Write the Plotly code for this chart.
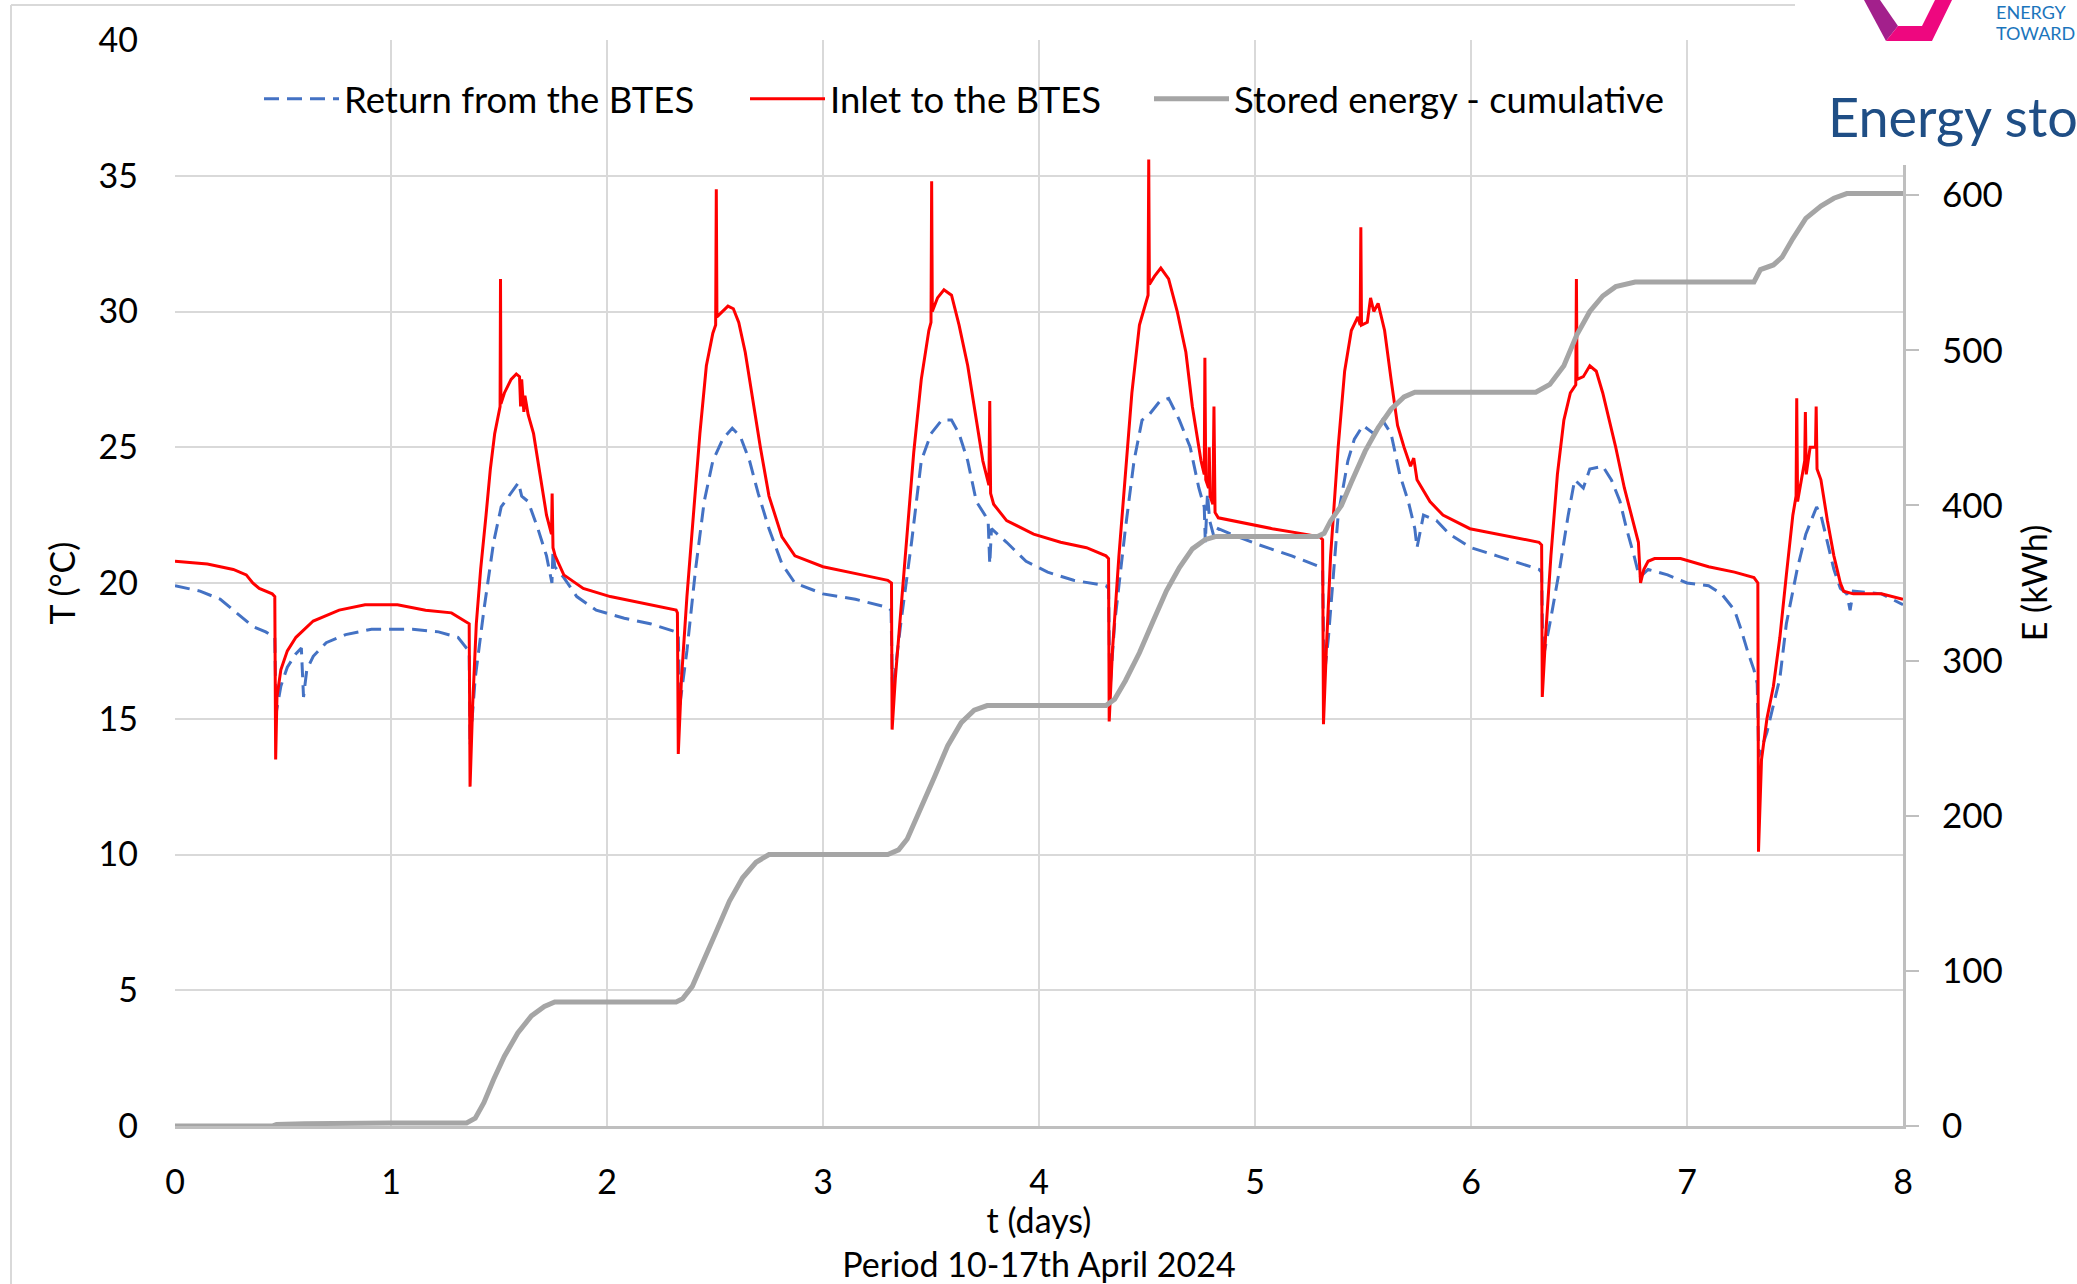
import plotly.graph_objects as go

# ---------------- data ----------------
t_inlet = [0, 0.15, 0.27, 0.33, 0.36, 0.39, 0.45, 0.462, 0.466, 0.472, 0.49, 0.52, 0.56, 0.64, 0.76, 0.88,
           1.03, 1.16, 1.28, 1.345, 1.362, 1.366, 1.378, 1.395, 1.415, 1.44, 1.46, 1.48, 1.5, 1.505, 1.507,
           1.509, 1.525, 1.556, 1.58, 1.595, 1.6, 1.605, 1.615, 1.62, 1.635, 1.66, 1.69, 1.72, 1.743, 1.746,
           1.75, 1.76, 1.8, 1.89, 2.015, 2.14, 2.32, 2.326, 2.33, 2.345, 2.37, 2.4, 2.43, 2.46, 2.49, 2.503,
           2.506, 2.509, 2.536, 2.56, 2.585, 2.61, 2.64, 2.67, 2.71, 2.75, 2.81, 2.87, 3.0, 3.18, 3.3, 3.317,
           3.32, 3.335, 3.36, 3.39, 3.42, 3.455, 3.49, 3.5, 3.503, 3.506, 3.53, 3.56, 3.595, 3.63, 3.67, 3.71,
           3.74, 3.768, 3.772, 3.776, 3.79, 3.85, 3.975, 4.1, 4.22, 4.31, 4.322, 4.325, 4.34, 4.37, 4.4, 4.43,
           4.465, 4.5, 4.505, 4.508, 4.511, 4.535, 4.564, 4.6, 4.64, 4.68, 4.71, 4.75, 4.765, 4.768, 4.772,
           4.785, 4.788, 4.792, 4.805, 4.81, 4.815, 4.83, 4.96, 5.08, 5.23, 5.3, 5.313, 5.317, 5.33, 5.35,
           5.385, 5.415, 5.446, 5.476, 5.487, 5.49, 5.493, 5.52, 5.535, 5.55, 5.57, 5.6, 5.63, 5.66, 5.69,
           5.72, 5.735, 5.75, 5.81, 5.87, 5.995, 6.18, 6.315, 6.327, 6.33, 6.345, 6.37, 6.4, 6.43, 6.46, 6.485,
           6.488, 6.491, 6.52, 6.55, 6.58, 6.61, 6.64, 6.67, 6.71, 6.76, 6.775, 6.785, 6.8, 6.82, 6.85, 6.97,
           7.1, 7.22, 7.31, 7.328, 7.331, 7.345, 7.37, 7.4, 7.43, 7.46, 7.49, 7.505, 7.508, 7.512, 7.53, 7.545,
           7.548, 7.552, 7.57, 7.595, 7.598, 7.602, 7.62, 7.65, 7.68, 7.71, 7.725, 7.77, 7.9, 8.0]
T_inlet = [20.8, 20.7, 20.5, 20.3, 20.0, 19.8, 19.6, 19.5, 13.5, 15.8, 16.8, 17.5, 18.0, 18.6, 19.0, 19.2,
           19.2, 19.0, 18.9, 18.6, 18.5, 12.5, 15.5, 18.5, 20.5, 22.5, 24.2, 25.5, 26.3, 26.5, 31.2,
           26.6, 27.0, 27.5, 27.7, 27.6, 26.5, 27.5, 26.3, 26.9, 26.2, 25.5, 24.0, 22.5, 21.8, 23.3,
           21.3, 21.0, 20.3, 19.8, 19.5, 19.3, 19.0, 18.9, 13.7, 16.5, 19.5, 22.5, 25.5, 28.0, 29.2, 29.5,
           34.5, 29.8, 30.0, 30.2, 30.1, 29.6, 28.5, 27.0, 25.0, 23.2, 21.7, 21.0, 20.6, 20.3, 20.1, 20.0,
           14.6, 16.5, 19.0, 22.0, 24.8, 27.5, 29.3, 29.6, 34.8, 30.0, 30.5, 30.8, 30.6, 29.5, 28.0, 26.0,
           24.5, 23.6, 26.7, 23.3, 22.9, 22.3, 21.8, 21.5, 21.3, 21.0, 20.9, 14.9, 17.5, 21.0, 24.0, 27.0,
           29.5, 30.5, 30.6, 35.6, 31.0, 31.3, 31.6, 31.2, 30.0, 28.5, 26.5, 24.5, 24.0, 28.3, 23.8,
           23.5, 25.0, 23.2, 22.9, 26.5, 22.6, 22.4, 22.2, 22.0, 21.8, 21.7, 21.6, 14.8, 17.5, 21.0,
           25.0, 27.8, 29.3, 29.8, 29.5, 33.1, 29.5, 29.6, 30.5, 30.0, 30.3, 29.3, 27.5, 25.8, 25.0,
           24.3, 24.6, 23.8, 23.0, 22.5, 22.0, 21.7, 21.5, 21.4, 15.8, 18.0, 21.0, 24.0, 26.0, 27.0, 27.3,
           31.2, 27.5, 27.6, 28.0, 27.8, 27.0, 26.0, 25.0, 23.5, 22.0, 21.5, 20.0, 20.5, 20.8, 20.9, 20.9,
           20.6, 20.4, 20.2, 20.0, 10.1, 13.5, 15.0, 16.2, 18.0, 20.3, 22.5, 23.2, 26.8, 23.0, 23.8, 24.5,
           26.3, 24.0, 25.0, 25.0, 26.5, 24.2, 23.8, 22.3, 21.0, 20.0, 19.7, 19.6, 19.6, 19.4]

t_return = [0, 0.116, 0.21, 0.3, 0.36, 0.42, 0.462, 0.468, 0.49, 0.52, 0.56, 0.585, 0.595, 0.61, 0.64, 0.7,
            0.79, 0.91, 1.1, 1.22, 1.31, 1.35, 1.362, 1.366, 1.39, 1.43, 1.475, 1.51, 1.556, 1.59, 1.605,
            1.635, 1.68, 1.72, 1.745, 1.75, 1.758, 1.8, 1.86, 1.95, 2.08, 2.2, 2.32, 2.33, 2.337, 2.37, 2.41,
            2.45, 2.49, 2.536, 2.58, 2.617, 2.66, 2.7, 2.75, 2.81, 2.87, 3.0, 3.15, 3.3, 3.315, 3.322, 3.36,
            3.41, 3.455, 3.5, 3.55, 3.595, 3.63, 3.67, 3.71, 3.75, 3.765, 3.772, 3.78, 3.85, 3.94, 4.04, 4.16,
            4.31, 4.322, 4.328, 4.35, 4.4, 4.44, 4.477, 4.51, 4.56, 4.6, 4.65, 4.7, 4.74, 4.765, 4.77, 4.78,
            4.79, 4.81, 4.83, 4.89, 5.02, 5.17, 5.3, 5.313, 5.32, 5.34, 5.385, 5.43, 5.46, 5.5, 5.55, 5.59,
            5.63, 5.67, 5.71, 5.74, 5.75, 5.78, 5.84, 5.9, 6.0, 6.12, 6.315, 6.327, 6.333, 6.365, 6.41, 6.45,
            6.48, 6.52, 6.55, 6.61, 6.65, 6.69, 6.72, 6.755, 6.78, 6.82, 6.91, 7.0, 7.1, 7.16, 7.22, 7.25,
            7.28, 7.31, 7.325, 7.332, 7.37, 7.4, 7.43, 7.46, 7.51, 7.55, 7.6, 7.62, 7.65, 7.68, 7.71, 7.74,
            7.755, 7.77, 7.9, 8.0]
T_return = [19.9, 19.7, 19.4, 18.8, 18.4, 18.2, 18.0, 15.2, 16.2, 16.9, 17.4, 17.6, 15.8, 16.8, 17.3, 17.8,
            18.1, 18.3, 18.3, 18.2, 18.0, 17.6, 17.5, 14.0, 16.5, 19.0, 21.5, 22.8, 23.3, 23.7, 23.2,
            23.0, 22.0, 21.0, 20.0, 21.2, 20.6, 20.2, 19.5, 19.0, 18.7, 18.5, 18.2, 18.1, 15.5, 17.5, 20.5,
            23.0, 24.5, 25.3, 25.7, 25.4, 24.5, 23.3, 22.0, 20.7, 20.0, 19.6, 19.4, 19.1, 19.0, 16.0, 18.5,
            21.5, 24.5, 25.5, 26.0, 26.0, 25.5, 24.5, 23.0, 22.5, 22.2, 20.7, 22.0, 21.5, 20.8, 20.4, 20.1,
            19.9, 19.8, 16.0, 18.5, 22.0, 24.5, 26.0, 26.2, 26.7, 26.8, 26.0, 25.0, 23.5, 22.8, 21.5, 23.3,
            22.3, 21.7, 22.0, 21.8, 21.4, 21.0, 20.6, 20.5, 16.5, 18.0, 22.5, 24.5, 25.3, 25.8, 25.5, 26.0,
            25.5, 24.0, 23.0, 22.0, 21.3, 22.5, 22.3, 21.8, 21.3, 21.0, 20.5, 20.4, 17.2, 18.5, 20.5, 22.5,
            23.8, 23.5, 24.2, 24.3, 23.8, 23.0, 22.0, 21.0, 20.2, 20.5, 20.3, 20.0, 19.9, 19.6, 19.0, 18.3,
            17.5, 16.8, 16.3, 13.6, 14.5, 15.5, 16.5, 18.5, 20.5, 21.8, 22.8, 22.5, 21.5, 20.5, 19.8, 19.6,
            19.0, 19.7, 19.6, 19.2]

t_energy = [0, 0.45, 0.47, 0.6, 1.0, 1.35, 1.39, 1.43, 1.475, 1.525, 1.587, 1.65, 1.71, 1.758, 2.32, 2.35,
            2.395, 2.444, 2.505, 2.567, 2.628, 2.69, 2.75, 3.3, 3.35, 3.39, 3.455, 3.516, 3.577, 3.64, 3.7,
            3.76, 4.31, 4.35, 4.4, 4.465, 4.527, 4.59, 4.65, 4.71, 4.77, 4.82, 5.29, 5.32, 5.35, 5.4, 5.446,
            5.51, 5.57, 5.63, 5.69, 5.74, 6.3, 6.365, 6.43, 6.49, 6.55, 6.61, 6.67, 6.76, 7.31, 7.34, 7.4,
            7.44, 7.49, 7.55, 7.62, 7.68, 7.74, 8.0]
E_stored = [0, 0, 1, 1.5, 2, 2, 5, 15, 30, 45, 60, 71, 77, 80, 80, 82,
            90, 105, 125, 145, 160, 170, 175, 175, 178, 185, 205, 225, 245, 260, 268,
            271, 271, 275, 287, 305, 325, 345, 360, 372, 378, 380, 380, 382, 390, 400, 415,
            435, 450, 462, 470, 473, 473, 478, 490, 510, 525, 535, 541, 544, 544, 552, 555,
            560, 572, 585, 593, 598, 601, 601]

x_ticks = [0, 1, 2, 3, 4, 5, 6, 7, 8]
T_ticks = [0, 5, 10, 15, 20, 25, 30, 35, 40]
E_ticks = [0, 100, 200, 300, 400, 500, 600]

names = ["Return from the BTES", "Inlet to the BTES", "Stored energy - cumulative"]

# ---------------- layout helpers (pixel -> paper) ----------------
W, H = 2077, 1284
L, R, T, B = 175, 174, 40, 158
PW, PH = W - L - R, H - T - B


def px(x):
    return (x - L) / PW


def py(y):
    return (H - B - y) / PH


FONT = "Lato"
fig = go.Figure()

fig.add_trace(go.Scatter(x=t_energy, y=E_stored, name=names[2], mode="lines", yaxis="y2",
                         line=dict(color="#A5A5A5", width=5), legend="legend3"))
fig.add_trace(go.Scatter(x=t_return, y=T_return, name=names[0], mode="lines",
                         line=dict(color="#4472C4", width=3, dash="15px,8px"), legend="legend"))
fig.add_trace(go.Scatter(x=t_inlet, y=T_inlet, name=names[1], mode="lines",
                         line=dict(color="#FF0000", width=3), legend="legend2"))

leg_common = dict(orientation="h", yanchor="middle", y=py(99), xanchor="left",
                  bgcolor="rgba(0,0,0,0)", font=dict(family=FONT, size=36.5, color="#000000"),
                  itemwidth=75)

fig.update_layout(
    width=W, height=H, autosize=False,
    margin=dict(l=L, r=R, t=T, b=B),
    paper_bgcolor="white", plot_bgcolor="white",
    font=dict(family=FONT, size=34, color="#000000"),
    showlegend=True,
    legend=dict(leg_common, x=px(259)),
    legend2=dict(leg_common, x=px(745)),
    legend3=dict(leg_common, x=px(1149)),
    xaxis=dict(range=[0, 8], tickvals=x_ticks, showgrid=True, gridcolor="#D9D9D9", gridwidth=2,
               zeroline=False, showline=True, linecolor="#BFBFBF", linewidth=3, ticks="",
               automargin=False, ticklabelstandoff=24, tickfont=dict(size=34),
               title=dict(text="t (days)<br>Period 10-17th April 2024", font=dict(size=34), standoff=2)),
    yaxis=dict(range=[0, 40], tickvals=T_ticks, showgrid=True, gridcolor="#D9D9D9", gridwidth=2,
               zeroline=False, showline=False, ticks="", ticklabelstandoff=36, tickfont=dict(size=34),
               automargin=False,
               title=dict(text="T (°C)", font=dict(size=34), standoff=12)),
    yaxis2=dict(range=[0, 700], tickvals=E_ticks, overlaying="y", side="right", showgrid=False,
                zeroline=False, showline=True, linecolor="#BFBFBF", linewidth=3, ticks="outside",
                ticklen=13, tickwidth=2, tickcolor="#BFBFBF", ticklabelstandoff=16,
                tickfont=dict(size=35), automargin=False,
                title=dict(text="E (kWh)", font=dict(size=34), standoff=22)),
)

# slide frame around the chart object
fig.add_shape(type="line", xref="paper", yref="paper", x0=px(11), x1=px(11), y0=py(5), y1=py(1300),
              line=dict(color="#D9D9D9", width=2), layer="below")
fig.add_shape(type="line", xref="paper", yref="paper", x0=px(11), x1=px(1800), y0=py(5), y1=py(5),
              line=dict(color="#D9D9D9", width=2), layer="below")

# white slide title box covering top-right corner
fig.add_shape(type="rect", xref="paper", yref="paper", x0=px(1795), x1=px(2090), y0=py(165), y1=py(-10),
              fillcolor="white", line=dict(width=0), layer="above")


def path(points):
    return "M " + " L ".join(f"{px(a):.5f},{py(b):.5f}" for a, b in points) + " Z"


# logo fragment
fig.add_shape(type="path", xref="paper", yref="paper",
              path=path([(1864, 0), (1886, 41), (1898, 26), (1880, 0)]),
              fillcolor="#A3208C", line=dict(width=0), layer="above")
fig.add_shape(type="path", xref="paper", yref="paper",
              path=path([(1886, 41), (1932, 41), (1952, 0), (1935, 0), (1922, 26), (1898, 26)]),
              fillcolor="#EE077F", line=dict(width=0), layer="above")

fig.add_annotation(xref="paper", yref="paper", x=px(1994), y=py(12), xanchor="left", yanchor="middle",
                   text="ENERGY", showarrow=False, font=dict(family=FONT, size=18, color="#1B75BC"))
fig.add_annotation(xref="paper", yref="paper", x=px(1994), y=py(33), xanchor="left", yanchor="middle",
                   text="TOWARD", showarrow=False, font=dict(family=FONT, size=18, color="#1B75BC"))
fig.add_annotation(xref="paper", yref="paper", x=px(1826), y=py(117), xanchor="left", yanchor="middle",
                   text="Energy sto", showarrow=False, font=dict(family=FONT, size=54, color="#1F4E85"))

fig.write_html("out.html")
